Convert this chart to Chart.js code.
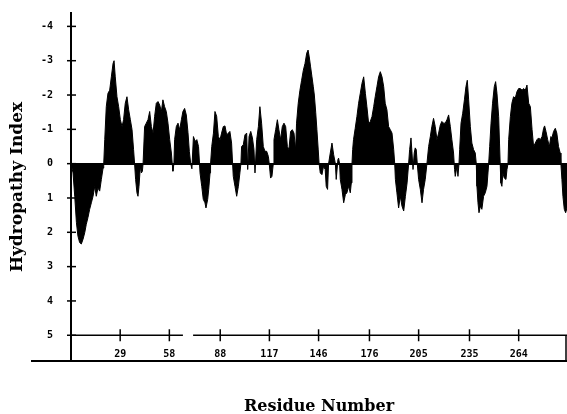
<!DOCTYPE html>
<html>
<head>
<meta charset="utf-8">
<script src="https://cdn.jsdelivr.net/npm/chart.js@4/dist/chart.umd.min.js"></script>
<style>
  html, body { margin: 0; padding: 0; background: #fff; }
  #wrap { width: 567px; height: 414px; position: relative; }
</style>
</head>
<body>
<div id="wrap"><canvas id="c"></canvas></div>
<script>
// ---- data ----
const residues = [
  0,1.2,2.2,3.2,4.1,5.1,6.1,7.1,8.1,9.0,10.0,11.0,12.0,13.0,14.0,14.9,15.9,16.9,17.9,18.9,
  19.3,19.9,20.8,21.8,22.8,23.8,24.8,25.4,26.1,27.1,28.1,29.1,30.1,31.0,32.0,33.0,34.0,35.0,36.0,36.9,
  37.5,38.1,38.9,39.5,40.1,40.9,41.5,42.1,42.5,43.4,44.4,45.4,46.4,47.4,48.4,49.3,50.3,51.3,52.3,53.3,
  54.2,55.2,56.2,57.2,58.2,59.2,59.7,60.1,60.7,61.1,62.1,63.1,64.1,65.1,66.0,67.0,68.0,69.0,69.8,70.6,
  71.3,72.2,73.2,74.2,75.2,75.8,76.1,77.1,78.0,79.0,79.6,80.6,81.2,82.0,82.3,83.0,84.0,84.9,85.9,86.9,
  87.9,88.8,89.8,90.8,91.8,92.8,93.7,94.7,95.3,95.7,96.7,97.7,98.7,99.6,100.2,100.6,101.6,102.6,103.6,104.2,
  105.0,106.0,107.0,107.9,108.5,109.5,110.5,111.4,112.4,113.4,114.4,115.4,116.4,116.9,117.7,118.5,119.3,119.7,120.7,121.7,
  122.6,123.6,124.6,125.6,126.6,127.6,128.5,129.5,130.5,131.5,132.5,133.0,134.0,135.0,136.0,137.0,138.0,139.0,139.8,140.5,
  141.3,142.1,142.9,143.5,144.3,145.0,145.8,146.3,147.0,148.0,148.9,149.9,150.5,151.3,151.9,152.9,153.9,154.9,155.9,156.4,
  157.4,157.8,158.4,158.8,159.8,160.8,161.8,162.7,163.7,164.7,165.3,165.7,166.1,166.6,167.6,168.6,169.6,170.6,171.6,172.6,
  173.6,174.5,175.5,176.5,177.5,178.5,179.4,180.4,181.4,182.4,183.4,184.4,185.3,186.3,187.3,188.3,189.3,190.3,190.9,191.3,
  192.2,193.2,194.2,195.2,196.2,197.2,198.2,199.1,199.7,200.5,201.1,201.7,202.4,203.0,203.6,204.2,205.0,206.0,207.0,207.9,
  208.9,209.9,210.9,211.9,212.8,213.8,214.8,215.8,216.8,217.8,218.7,219.7,220.7,221.7,222.7,223.7,224.6,225.6,226.2,226.6,
  227.6,228.2,228.8,229.2,230.0,231.0,232.0,232.9,233.7,234.5,235.5,236.4,237.4,238.4,239.0,239.4,240.0,240.6,241.4,242.3,
  243.3,244.3,245.3,245.9,246.3,246.9,247.7,248.6,249.6,250.4,251.2,252.2,252.7,253.1,253.5,254.1,254.7,255.5,256.5,257.1,
  257.7,258.1,259.1,260.0,261.0,262.0,263.0,264.0,265.0,266.0,266.9,267.9,268.9,269.9,270.9,271.9,272.8,273.8,274.8,275.8,
  276.8,277.8,278.7,279.3,280.1,281.1,282.1,283.0,283.6,284.6,285.6,286.5,287.5,288.5,288.9,289.5,290.1,290.9,291.7,292.5
];
const hydropathy = [
  0,0.27,0.95,1.72,2.11,2.30,2.34,2.20,2.01,1.77,1.57,1.33,1.14,0.95,0.66,0.95,0.71,0.80,0.46,0.13,
  0,-0.70,-1.66,-2.05,-2.14,-2.53,-2.92,-3.00,-2.53,-1.95,-1.66,-1.28,-1.08,-1.28,-1.76,-1.95,-1.57,-1.28,-0.99,-0.41,
  0,0.46,0.85,0.95,0.66,0.08,0.27,0.22,0,-1.08,-1.18,-1.28,-1.52,-1.08,-0.89,-1.37,-1.76,-1.81,-1.71,-1.52,
  -1.86,-1.66,-1.52,-1.18,-0.70,-0.31,0,0.22,0,-0.70,-1.08,-1.18,-0.99,-1.28,-1.52,-1.61,-1.42,-0.90,-0.35,0,
  0.15,-0.79,-0.65,-0.70,-0.50,0,0.27,0.66,1.04,1.14,1.29,1.04,0.75,0.27,0,-0.50,-0.89,-1.52,-1.38,-0.79,
  -0.70,-0.89,-1.08,-1.10,-0.84,-0.89,-0.94,-0.60,0,0.37,0.66,0.95,0.66,0.27,0,-0.50,-0.55,-0.84,-0.89,0.17,
  -0.79,-0.94,-0.75,-0.41,0.27,-0.70,-1.08,-1.66,-1.18,-0.50,-0.36,-0.36,-0.21,0,0.42,0.37,0,-0.70,-0.99,-1.28,
  -0.99,-0.70,-1.08,-1.18,-1.08,-0.50,-0.41,-0.94,-0.99,-0.89,-0.41,-1.18,-1.76,-2.14,-2.43,-2.72,-2.92,-3.22,-3.31,-3.11,
  -2.82,-2.53,-2.24,-2.00,-1.50,-1.00,-0.40,0,0.27,0.32,0.08,0.17,0.66,0.75,0,-0.31,-0.60,-0.26,0,0.46,
  -0.12,-0.16,0,0.46,0.75,1.14,0.90,0.85,0.66,0.85,0.56,0,-0.41,-0.70,-1.03,-1.37,-1.76,-2.05,-2.34,-2.53,
  -2.05,-1.66,-1.18,-1.23,-1.37,-1.66,-1.95,-2.24,-2.53,-2.68,-2.53,-2.24,-1.76,-1.57,-1.08,-0.99,-0.89,-0.41,0,0.46,
  0.85,1.29,0.95,1.24,1.38,0.95,0.56,0,-0.41,-0.75,-0.31,0.17,-0.31,-0.46,-0.41,0,0.46,0.75,1.14,0.75,
  0.46,0,-0.50,-0.79,-1.08,-1.32,-1.08,-0.70,-0.89,-1.13,-1.23,-1.18,-1.18,-1.28,-1.42,-1.08,-0.70,-0.31,0.17,0.37,
  0.08,0.37,0,-0.41,-1.18,-1.47,-1.86,-2.24,-2.43,-1.86,-1.08,-0.60,-0.41,-0.31,0,0.66,1.14,1.43,1.24,1.33,
  0.95,0.85,0.66,0.27,0,-0.50,-1.18,-1.76,-2.24,-2.39,-2.05,-1.37,-0.60,0,0.56,0.66,0.27,0.42,0.46,0.17,
  0,-0.70,-1.37,-1.76,-1.95,-1.91,-2.10,-2.19,-2.19,-2.14,-2.19,-2.14,-2.29,-1.76,-1.66,-0.99,-0.50,-0.60,-0.70,-0.75,
  -0.70,-0.79,-1.03,-1.10,-0.94,-0.70,-0.50,-0.79,-0.75,-0.94,-1.03,-0.89,-0.50,-0.31,0,0.46,0.95,1.33,1.43,1.29
];
const xTickValues = [29, 58, 88, 117, 146, 176, 205, 235, 264];
const yTickValues = [-4, -3, -2, -1, 0, 1, 2, 3, 4, 5];
const xAxisAt = 5;                       // the residue axis is drawn at index 5
const xAxisSegments = [[0, 66], [72, 292.5]]; // broken axis line (residue units)

const points = residues.map((r, i) => ({ x: r, y: hydropathy[i] }));

const axisFrame = {
  id: 'axisFrame',
  afterDatasetsDraw(chart) {
    const { ctx, chartArea, scales: { x, y } } = chart;
    const line = (x1, y1, x2, y2, w) => {
      ctx.lineWidth = w; ctx.beginPath(); ctx.moveTo(x1, y1); ctx.lineTo(x2, y2); ctx.stroke();
    };
    ctx.save();
    ctx.strokeStyle = '#000';
    y.ticks.forEach((t, i) => {
      const py = y.getPixelForTick(i);
      line(chartArea.left - 4, py, chartArea.left + 5, py, 1.5);
    });
    const pyAxis = y.getPixelForValue(xAxisAt);
    xAxisSegments.forEach(([a, b]) => line(x.getPixelForValue(a), pyAxis, x.getPixelForValue(b), pyAxis, 1.5));
    x.ticks.forEach((t, i) => {
      const px = x.getPixelForTick(i);
      line(px, pyAxis - 6, px, pyAxis + 6, 1.5);
    });
    line(chartArea.left - 40, chartArea.bottom, chartArea.right, chartArea.bottom, 2);
    line(chartArea.right - 1, pyAxis, chartArea.right - 1, chartArea.bottom, 1.5);
    ctx.restore();
  }
};

new Chart(document.getElementById('c'), {
  type: 'line',
  data: {
    datasets: [{
      data: points,
      borderColor: '#000',
      backgroundColor: '#000',
      borderWidth: 1,
      pointRadius: 0,
      tension: 0,
      fill: 'origin'
    }]
  },
  options: {
    responsive: true,
    maintainAspectRatio: false,
    animation: false,
    devicePixelRatio: 1,
    layout: { padding: { top: 13, left: 0, right: 0, bottom: 0 } },
    plugins: {
      legend: { display: false },
      tooltip: { enabled: false },
      title: {
        display: true,
        text: 'Residue Number',
        position: 'bottom',
        fullSize: false,
        color: '#000',
        font: { family: 'DejaVu Serif', weight: 'bold', size: 16, lineHeight: 0.8 },
        padding: { top: 39.6, bottom: 0.6 }
      }
    },
    scales: {
      x: {
        type: 'linear',
        min: 0,
        max: 292.5,
        position: { y: xAxisAt },
        afterBuildTicks: (s) => { s.ticks = xTickValues.map(v => ({ value: v })); },
        ticks: {
          autoSkip: false,
          maxRotation: 0,
          padding: 13,
          color: '#000',
          font: { family: 'DejaVu Sans Mono', weight: 'bold', size: 10 },
          callback: (v) => String(v)
        },
        grid: { display: false, drawTicks: false },
        border: { display: false }
      },
      y: {
        type: 'linear',
        reverse: true,
        min: -4.39,
        max: 5.75,
        afterFit: (s) => { s.width = 71; s.paddingTop = 0; s.paddingBottom = 0; },
        afterBuildTicks: (s) => { s.ticks = yTickValues.map(v => ({ value: v })); },
        ticks: {
          padding: 18,
          color: '#000',
          font: { family: 'DejaVu Sans Mono', weight: 'bold', size: 10 },
          callback: (v) => String(v)
        },
        grid: {
          drawTicks: false,
          color: (c) => (c.tick && c.tick.value === 0 ? '#000' : 'rgba(0,0,0,0)'),
          lineWidth: 2
        },
        border: { display: true, color: '#000', width: 2 },
        title: {
          display: true,
          text: 'Hydropathy Index',
          color: '#000',
          font: { family: 'DejaVu Serif', weight: 'bold', size: 17 },
          padding: { top: 7, bottom: 0 }
        }
      }
    }
  },
  plugins: [axisFrame]
});
</script>
</body>
</html>
